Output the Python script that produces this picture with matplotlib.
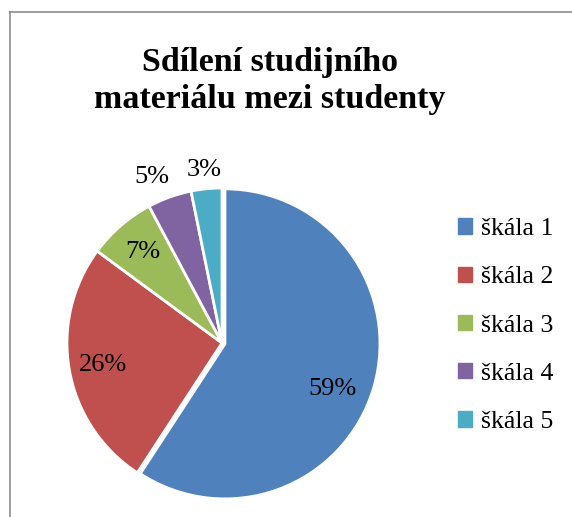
import numpy as np
import matplotlib
matplotlib.use("Agg")
import matplotlib.pyplot as plt
from matplotlib.lines import Line2D

title = "Sdílení studijního\nmateriálu mezi studenty"
categories = ["škála 1", "škála 2", "škála 3", "škála 4", "škála 5"]
values = [59.2, 25.9, 7.1, 4.6, 3.2]
colors = ["#4F81BD", "#C0504D", "#9BBB59", "#8064A2", "#4BACC6"]
label_dist = [0.77, 0.78, 0.78, 1.16, 1.12]
label_shift = [-6, 0, 0, 3, 0]  # degrees
explode = [0.02, 0, 0, 0, 0]

W, H = 572, 517
fig = plt.figure(figsize=(W / 100, H / 100), dpi=100)
fig.patch.set_facecolor("white")
serif = ["Liberation Serif", "DejaVu Serif"]

# chart border (partially visible)
fig.add_artist(Line2D([10 / W, 10 / W], [0, 1 - 12 / H], transform=fig.transFigure, color="#8c8c8c", lw=1.2))
fig.add_artist(Line2D([10 / W, 1], [1 - 12 / H, 1 - 12 / H], transform=fig.transFigure, color="#8c8c8c", lw=1.2))

fig.text(270 / W, 1 - 81 / H, title, ha="center", va="center", fontsize=24.5,
         fontweight="bold", family=serif, linespacing=1.25)

cx, cy, r = 222, 343, 155
lim = 1.2
ax = fig.add_axes([(cx - r * lim) / W, (H - cy - r * lim) / H, 2 * r * lim / W, 2 * r * lim / H])
ax.axis("off")

wedges, _ = ax.pie(values, colors=colors, startangle=90, counterclock=False,
                   explode=explode, radius=1,
                   wedgeprops=dict(edgecolor="white", linewidth=2))
ax.set_xlim(-lim, lim)
ax.set_ylim(-lim, lim)

for w, v, d, s in zip(wedges, values, label_dist, label_shift):
    mid = np.deg2rad((w.theta1 + w.theta2) / 2 + s)
    ax.text(d * np.cos(mid), d * np.sin(mid), f"{v:.0f}%", ha="center", va="center",
            fontsize=19, family=serif)

handles = [plt.Rectangle((0, 0), 1, 1, color=c) for c in colors]
leg = fig.legend(handles, categories, loc="upper left", bbox_to_anchor=(435 / W, 1 - 195 / H),
                 frameon=False, prop=dict(family=serif, size=18.5),
                 handlelength=0.55, handleheight=0.55, handletextpad=0.35, labelspacing=1.02)

fig.savefig("out.png", dpi=100)
